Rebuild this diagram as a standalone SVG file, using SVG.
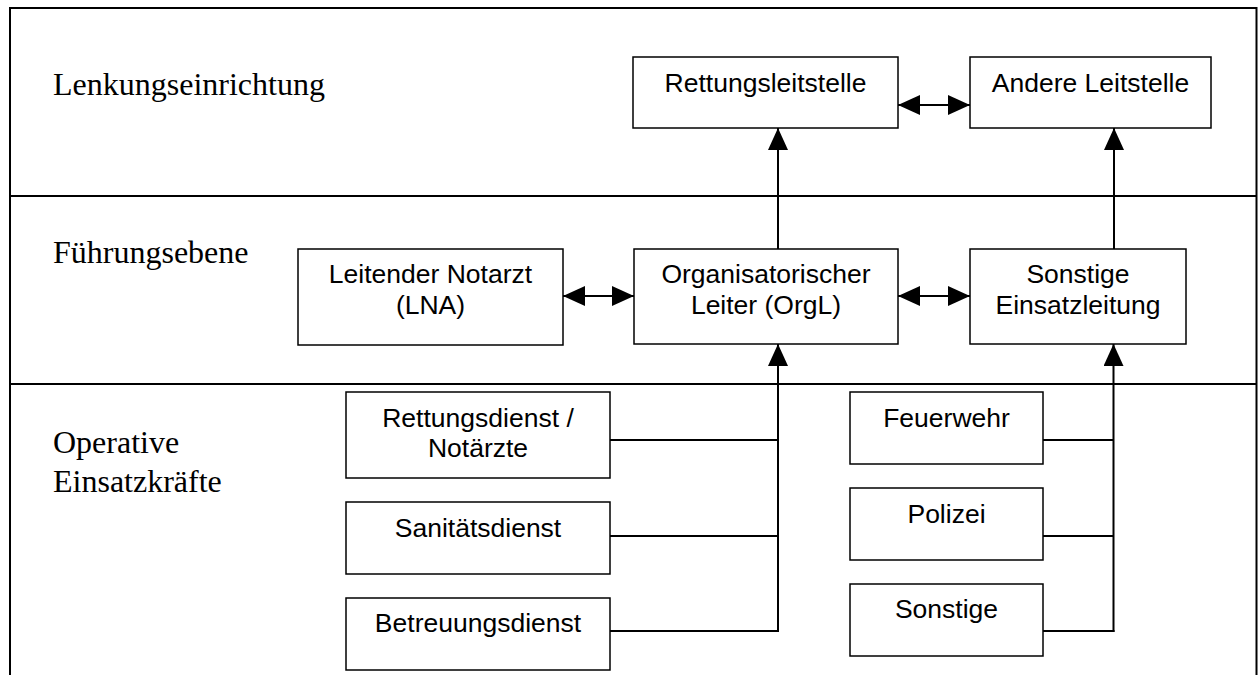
<svg xmlns="http://www.w3.org/2000/svg" width="1258" height="675" viewBox="0 0 1258 675">
  <style>
    .frame { stroke: #000; stroke-width: 2; fill: none; }
    .box { fill: #fff; stroke: #000; stroke-width: 1.5; }
    .wire { stroke: #000; stroke-width: 2; fill: none; }
    .level { font-family: "Liberation Serif", "Times New Roman", serif; font-size: 32px; fill: #000; }
    .label { font-family: "Liberation Sans", Arial, sans-serif; font-size: 26.5px; fill: #000; text-anchor: middle; }
  </style>
  <defs>
    <marker id="head" markerUnits="userSpaceOnUse" markerWidth="22" markerHeight="20" refX="22" refY="10" orient="auto-start-reverse">
      <path d="M0,0 L22,10 L0,20 Z" fill="#000"/>
    </marker>
  </defs>
  <rect width="1258" height="675" fill="#fff"/>

  <!-- Level bands -->
  <g id="bands">
    <path class="frame" d="M10,675 V8 H1256.5 V675"/>
    <line class="frame" x1="10" y1="196" x2="1257" y2="196"/>
    <line class="frame" x1="10" y1="384" x2="1257" y2="384"/>
    <text class="level" x="53" y="95">Lenkungseinrichtung</text>
    <text class="level" x="53" y="263">Führungsebene</text>
    <text class="level" x="53" y="453">Operative</text>
    <text class="level" x="53" y="492">Einsatzkräfte</text>
  </g>

  <!-- Connectors -->
  <g id="connectors">
    <line class="wire" x1="898" y1="105" x2="970" y2="105" marker-start="url(#head)" marker-end="url(#head)"/>
    <line class="wire" x1="563" y1="296" x2="634" y2="296" marker-start="url(#head)" marker-end="url(#head)"/>
    <line class="wire" x1="898" y1="296" x2="970" y2="296" marker-start="url(#head)" marker-end="url(#head)"/>
    <line class="wire" x1="778" y1="249" x2="778" y2="128" marker-end="url(#head)"/>
    <line class="wire" x1="1114" y1="249" x2="1114" y2="128" marker-end="url(#head)"/>
    <line class="wire" x1="778" y1="632" x2="778" y2="344" marker-end="url(#head)"/>
    <line class="wire" x1="1113.5" y1="632" x2="1113.5" y2="344" marker-end="url(#head)"/>
    <path class="wire" d="M610,440 H778 M610,536 H778 M610,631 H779"/>
    <path class="wire" d="M1043,440 H1113.5 M1043,536 H1113.5 M1043,631 H1114.5"/>
  </g>

  <g id="rettungsleitstelle">
    <rect class="box" x="633" y="57" width="265" height="71"/>
    <text class="label" x="765.5" y="92">Rettungsleitstelle</text>
  </g>
  <g id="andere-leitstelle">
    <rect class="box" x="970" y="57" width="241" height="71"/>
    <text class="label" x="1090.5" y="92">Andere Leitstelle</text>
  </g>
  <g id="lna">
    <rect class="box" x="298" y="249" width="265" height="96"/>
    <text class="label" x="430.5" y="283">Leitender Notarzt</text>
    <text class="label" x="430.5" y="314">(LNA)</text>
  </g>
  <g id="orgl">
    <rect class="box" x="634" y="249" width="264" height="95"/>
    <text class="label" x="766" y="283">Organisatorischer</text>
    <text class="label" x="766" y="314">Leiter (OrgL)</text>
  </g>
  <g id="sonstige-einsatzleitung">
    <rect class="box" x="970" y="249" width="216" height="95"/>
    <text class="label" x="1078" y="283">Sonstige</text>
    <text class="label" x="1078" y="314">Einsatzleitung</text>
  </g>
  <g id="rettungsdienst">
    <rect class="box" x="346" y="392" width="264" height="86"/>
    <text class="label" x="478" y="427">Rettungsdienst /</text>
    <text class="label" x="478" y="457">Notärzte</text>
  </g>
  <g id="sanitaetsdienst">
    <rect class="box" x="346" y="502" width="264" height="72"/>
    <text class="label" x="478" y="537">Sanitätsdienst</text>
  </g>
  <g id="betreuungsdienst">
    <rect class="box" x="346" y="598" width="264" height="72"/>
    <text class="label" x="478" y="632">Betreuungsdienst</text>
  </g>
  <g id="feuerwehr">
    <rect class="box" x="850" y="392" width="193" height="72"/>
    <text class="label" x="946.5" y="427">Feuerwehr</text>
  </g>
  <g id="polizei">
    <rect class="box" x="850" y="488" width="193" height="72"/>
    <text class="label" x="946.5" y="523">Polizei</text>
  </g>
  <g id="sonstige">
    <rect class="box" x="850" y="584" width="193" height="72"/>
    <text class="label" x="946.5" y="618">Sonstige</text>
  </g>
</svg>
